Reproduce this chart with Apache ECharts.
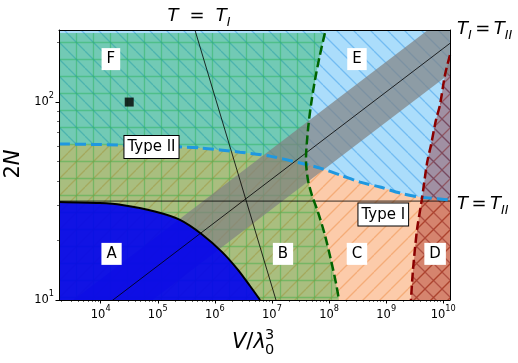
<!DOCTYPE html>
<html>
<head>
<meta charset="utf-8">
<script src="https://cdn.jsdelivr.net/npm/echarts@6/dist/echarts.min.js"></script>
<style>
  html, body { margin: 0; padding: 0; background: #fff; }
  #main { width: 518px; height: 363px; }
</style>
</head>
<body>
<div id="main"></div>
<script>
// axes are drawn in log10 space
const xRange = [3.27, 10.118];
const yRange = [1, 2.364];
const xMajor = [4, 5, 6, 7, 8, 9, 10];
const yMajor = [1, 2];

// Type I / Type II boundary (blue dashed)
const typeV = [1.86e3, 9.7e3, 7.3e4, 5.5e5, 2.75e6, 9.2e6, 3.1e7, 6.9e7, 1.55e8, 3.5e8, 7.8e8, 1.75e9, 3.9e9, 8.7e9, 1.31e10];
const typeN = [61.4, 61, 60, 58.6, 55.8, 53.3, 49.2, 46.4, 42.8, 39.4, 37.2, 34.7, 33.1, 32.4, 32];

// edge of region A (solid black)
const aV = [1.86e3, 9.7e3, 2.36e4, 8.9e4, 2.45e5, 5.9e5, 1.33e6, 2.54e6, 4.1e6, 6.2e6];
const aN = [31.3, 30.9, 30.2, 28, 25.4, 21.5, 17.5, 14.2, 11.8, 10];

// B|C and F|E boundary (green dashed)
const gV = [8.45e7, 6.9e7, 5.66e7, 4.82e7, 4.27e7, 3.94e7, 4.27e7, 5.0e7, 6.4e7, 8.45e7, 1.08e8, 1.32e8, 1.49e8];
const gN = [223, 172.6, 129, 96.6, 72.3, 51, 40.4, 33.9, 27.8, 21.3, 15.9, 12.2, 10];

// C|D boundary (red dashed)
const dV = [1.31e10, 1.07e10, 8.75e9, 7.45e9, 6.1e9, 5.2e9, 4.2e9, 3.47e9, 2.95e9, 2.72e9];
const dN = [172.6, 136.8, 96.6, 81.1, 60.7, 49.2, 32, 22.6, 14.2, 10];

// reference lines
const tiV = [4.48e5, 1.175e7];    // T = T_I
const tiN = [231, 10];
const tiiN = 31.6;                // T = T_II
const eqV = [1.86e3, 1.31e10];    // T_I = T_II
const eqN = [6.2, 198];
const bandFactor = 1.42;          // band around T_I = T_II

const markV = 3.16e4, markN = 100;

const labels = [
  ['F', 1.51e4, 164.8, false],
  ['E', 3.08e8, 164.8, false],
  ['Type II', 7.76e4, 59.3, true],
  ['A', 1.55e4, 17.1, false],
  ['B', 1.56e7, 17.1, false],
  ['C', 3.08e8, 17.1, false],
  ['D', 7.2e9, 17.1, false],
  ['Type I', 8.9e8, 27.0, true]
];

const lg = Math.log10;
const pts = (V, N) => V.map((v, i) => [lg(v), lg(N[i])]);

// hatch tiles, 17 px per repeat
function hatch(kind, color) {
  const s = 17;
  const c = document.createElement('canvas');
  c.width = c.height = s;
  const g = c.getContext('2d');
  g.strokeStyle = color;
  g.lineWidth = 1.3;
  g.beginPath();
  if (kind === '+') {
    g.moveTo(0, 8.5); g.lineTo(s, 8.5);
    g.moveTo(8.5, 0); g.lineTo(8.5, s);
  }
  if (kind === '/' || kind === 'x') {
    for (const o of [-s, 0, s]) { g.moveTo(o, s); g.lineTo(o + s, 0); }
  }
  if (kind === '\\' || kind === 'x') {
    for (const o of [-s, 0, s]) { g.moveTo(o, 0); g.lineTo(o + s, s); }
  }
  g.stroke();
  return c;
}

function region(poly, fill, hatchImg) {
  return {
    type: 'custom', clip: true, silent: true, z: 2, data: [[0, 0]],
    renderItem: (params, api) => {
      const points = poly.map(p => api.coord(p));
      const children = [{ type: 'polygon', shape: { points }, style: { fill } }];
      if (hatchImg) {
        children.push({ type: 'polygon', shape: { points }, style: { fill: { image: hatchImg, repeat: 'repeat' } } });
      }
      return { type: 'group', children };
    }
  };
}

function line(data, color, width, type, smooth, z) {
  return {
    type: 'line', data, symbol: 'none', silent: true, smooth: smooth || 0, clip: true, z: z || 3,
    lineStyle: { color, width, type: type || 'solid' }
  };
}

const typeCurve = pts(typeV, typeN);
const greenCurve = pts(gV, gN);
const redCurve = pts(dV, dN);
const aCurve = pts(aV, aN);
const eqCurve = pts(eqV, eqN);
const bandPoly = [
  [lg(eqV[0]), lg(eqN[0] * bandFactor)], [lg(eqV[1]), lg(eqN[1] * bandFactor)],
  [lg(eqV[1]), lg(eqN[1] / bandFactor)], [lg(eqV[0]), lg(eqN[0] / bandFactor)]
];

const [x0, x1] = xRange, [y0, y1] = yRange;

const minorX = [], minorY = [];
for (let d = 3; d <= 10; d++) for (let k = 2; k <= 9; k++) {
  const v = d + lg(k);
  if (v > x0 && v < x1) minorX.push(v);
}
for (let d = 1; d <= 2; d++) for (let k = 2; k <= 9; k++) {
  const v = d + lg(k);
  if (v > y0 && v < y1) minorY.push(v);
}

const font = 'DejaVu Sans';
const tickRich = {
  b: { fontFamily: font, fontSize: 11.5, lineHeight: 20, color: '#000' },
  s: { fontFamily: font, fontSize: 8.2, verticalAlign: 'top', color: '#000' }
};
const mathRich = {
  i: { fontFamily: font, fontStyle: 'italic', fontSize: 18, lineHeight: 26, color: '#000' },
  r: { fontFamily: font, fontSize: 18, lineHeight: 26, color: '#000' },
  sub: { fontFamily: font, fontStyle: 'italic', fontSize: 12.6, verticalAlign: 'bottom', color: '#000' },
  sp: { fontSize: 4, width: 3.5 },
  wide: { fontSize: 4, width: 11 }
};
const bigRich = {
  r: { fontFamily: font, fontSize: 21, color: '#000' },
  i: { fontFamily: font, fontStyle: 'italic', fontSize: 21, color: '#000' }
};

const frame = { show: true, lineStyle: { color: '#000', width: 1 } };

const option = {
  animation: false,
  backgroundColor: '#fff',
  grid: { left: 59, top: 30, width: 391, height: 270, outerBoundsMode: 'none' },
  xAxis: [
    {
      type: 'value', min: x0, max: x1, position: 'bottom', z: 10,
      axisLine: frame, splitLine: { show: false },
      axisTick: { show: true, length: 3.5, customValues: xMajor, lineStyle: { color: '#000' } },
      axisLabel: {
        customValues: xMajor, margin: 5,
        formatter: v => '{b|10}{s|' + Math.round(v) + '}', rich: tickRich
      }
    },
    {
      type: 'value', min: x0, max: x1, position: 'bottom', z: 10,
      axisLine: { show: false }, splitLine: { show: false }, axisLabel: { show: false },
      axisTick: { show: true, length: 2, customValues: minorX, lineStyle: { color: '#000', width: 0.6 } }
    },
    {
      type: 'value', min: x0, max: x1, position: 'top', z: 10,
      axisLine: frame, splitLine: { show: false }, axisLabel: { show: false }, axisTick: { show: false }
    }
  ],
  yAxis: [
    {
      type: 'value', min: y0, max: y1, position: 'left', z: 10,
      axisLine: frame, splitLine: { show: false },
      axisTick: { show: true, length: 3.5, customValues: yMajor, lineStyle: { color: '#000' } },
      axisLabel: {
        customValues: yMajor, margin: 5,
        formatter: v => '{b|10}{s|' + Math.round(v) + '}', rich: tickRich
      }
    },
    {
      type: 'value', min: y0, max: y1, position: 'left', z: 10,
      axisLine: { show: false }, splitLine: { show: false }, axisLabel: { show: false },
      axisTick: { show: true, length: 2, customValues: minorY, lineStyle: { color: '#000', width: 0.6 } }
    },
    {
      type: 'value', min: y0, max: y1, position: 'right', z: 10,
      axisLine: frame, splitLine: { show: false }, axisLabel: { show: false }, axisTick: { show: false }
    }
  ],
  series: [
    region(typeCurve.concat([[x1, y1], [x0, y1]]), 'rgba(135,206,250,0.7)', hatch('\\', 'rgba(30,140,230,0.4)')),
    region(typeCurve.concat([[x1, y0], [x0, y0]]), 'rgba(250,160,100,0.55)', hatch('/', 'rgba(235,120,40,0.38)')),
    region(greenCurve.concat([[x0, y0], [x0, lg(gN[0])]]), 'rgba(0,165,40,0.33)', hatch('+', 'rgba(0,165,40,0.3)')),
    region(redCurve.concat([[x1, y0]]), 'rgba(139,0,0,0.35)', hatch('x', 'rgba(120,0,0,0.4)')),
    region(bandPoly, 'rgba(128,128,128,0.7)', null),
    region(aCurve.concat([[x0, y0]]), 'rgba(0,0,240,0.9)', null),
    line([[x0, lg(tiiN)], [x1, lg(tiiN)]], '#000', 0.8),
    line(pts(tiV, tiN), '#000', 0.8),
    line(eqCurve, '#000', 0.8),
    line(typeCurve, '#1f98e0', 3, [11, 5], 0.3, 4),
    line(greenCurve, '#006400', 2.5, [9, 4], 0.3, 4),
    line(redCurve, '#8b0000', 2.5, [9, 4], 0.3, 4),
    line(aCurve, '#000', 2, 'solid', 0.3, 4),
    {
      type: 'scatter', z: 5, data: [[lg(markV), lg(markN)]], symbol: 'rect', symbolSize: 9,
      itemStyle: { color: '#000' }, silent: true
    },
    {
      type: 'custom', silent: true, z: 6,
      data: labels.map(l => [lg(l[1]), lg(l[2])]),
      renderItem: (params, api) => {
        const p = api.coord([api.value(0), api.value(1)]);
        const lab = labels[params.dataIndex];
        return {
          type: 'text', x: p[0], y: p[1],
          style: {
            text: lab[0], font: '15px "DejaVu Sans"', fill: '#000',
            align: 'center', verticalAlign: 'middle', backgroundColor: '#fff',
            padding: lab[3] ? [4, 3, 3, 3] : [4, 5, 3, 5],
            borderColor: lab[3] ? '#000' : null, borderWidth: lab[3] ? 1 : 0
          }
        };
      }
    }
  ],
  graphic: [
    {
      type: 'text', x: 199, y: 16,
      style: { text: '{i|T}{wide| }{r|=}{wide| }{i|T}{sub|I}', rich: mathRich, align: 'center', verticalAlign: 'middle' }
    },
    {
      type: 'text', x: 457, y: 29,
      style: { text: '{i|T}{sub|I}{sp| }{r|=}{sp| }{i|T}{sub|II}', rich: mathRich, align: 'left', verticalAlign: 'middle' }
    },
    {
      type: 'text', x: 457, y: 204,
      style: { text: '{i|T}{sp| }{r|=}{sp| }{i|T}{sub|II}', rich: mathRich, align: 'left', verticalAlign: 'middle' }
    },
    {
      type: 'text', x: 14, y: 164, rotation: Math.PI / 2,
      style: { text: '{r|2}{i|N}', rich: bigRich, align: 'center', verticalAlign: 'middle' }
    },
    {
      type: 'text', x: 232, y: 343,
      style: { text: '{i|V}{r|/}{i|λ}', rich: bigRich, align: 'left', verticalAlign: 'middle' }
    },
    { type: 'text', x: 265, y: 335, style: { text: '3', font: '14.5px "DejaVu Sans"', fill: '#000', align: 'left', verticalAlign: 'middle' } },
    { type: 'text', x: 265, y: 350, style: { text: '0', font: '14.5px "DejaVu Sans"', fill: '#000', align: 'left', verticalAlign: 'middle' } }
  ]
};

const chart = echarts.init(document.getElementById('main'));
chart.setOption(option);
window.addEventListener('resize', () => chart.resize());
</script>
</body>
</html>
